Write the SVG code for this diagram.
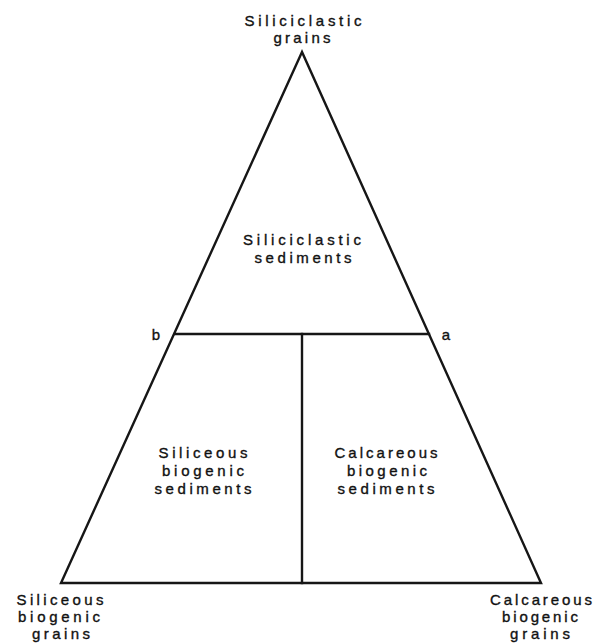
<svg xmlns="http://www.w3.org/2000/svg" width="607" height="644" viewBox="0 0 607 644">
<style>
.ln{stroke:#161616;stroke-width:2.4;fill:none;stroke-linejoin:miter;stroke-linecap:square}
text{font-family:"Liberation Sans",Arial,sans-serif;font-size:15px;fill:#111111;text-anchor:middle;stroke:#111111;stroke-width:0.35}
.lb{font-size:15px}
</style>
<rect width="607" height="644" fill="#ffffff"/>
<g id="connectors">
<polygon class="ln" points="302,52 61,583 541,583"/>
<line class="ln" x1="175" y1="334" x2="429" y2="334"/>
<line class="ln" x1="302" y1="334" x2="302" y2="583"/>
</g>
<g id="apex-label">
<text x="303" y="26" textLength="117" lengthAdjust="spacing">Siliciclastic</text>
<text x="302" y="43" textLength="57" lengthAdjust="spacing">grains</text>
</g>
<g id="siliciclastic-sediments">
<text x="302" y="245" textLength="118" lengthAdjust="spacing">Siliciclastic</text>
<text x="303" y="263" textLength="97" lengthAdjust="spacing">sediments</text>
</g>
<g id="siliceous-sediments">
<text x="203" y="458" textLength="89" lengthAdjust="spacing">Siliceous</text>
<text x="203" y="476" textLength="82" lengthAdjust="spacing">biogenic</text>
<text x="203" y="494" textLength="97" lengthAdjust="spacing">sediments</text>
</g>
<g id="calcareous-sediments">
<text x="386" y="458" textLength="103" lengthAdjust="spacing">Calcareous</text>
<text x="387" y="476" textLength="80" lengthAdjust="spacing">biogenic</text>
<text x="386" y="494" textLength="97" lengthAdjust="spacing">sediments</text>
</g>
<g id="siliceous-grains">
<text x="60" y="605" textLength="87" lengthAdjust="spacing">Siliceous</text>
<text x="59" y="622" textLength="82" lengthAdjust="spacing">biogenic</text>
<text x="61" y="639" textLength="58" lengthAdjust="spacing">grains</text>
</g>
<g id="calcareous-grains">
<text x="541" y="605" textLength="102" lengthAdjust="spacing">Calcareous</text>
<text x="540" y="622" textLength="76" lengthAdjust="spacing">biogenic</text>
<text x="540" y="639" textLength="60" lengthAdjust="spacing">grains</text>
</g>
<g id="point-b"><text class="lb" x="156" y="340">b</text></g>
<g id="point-a"><text class="lb" x="446" y="340">a</text></g>
</svg>
